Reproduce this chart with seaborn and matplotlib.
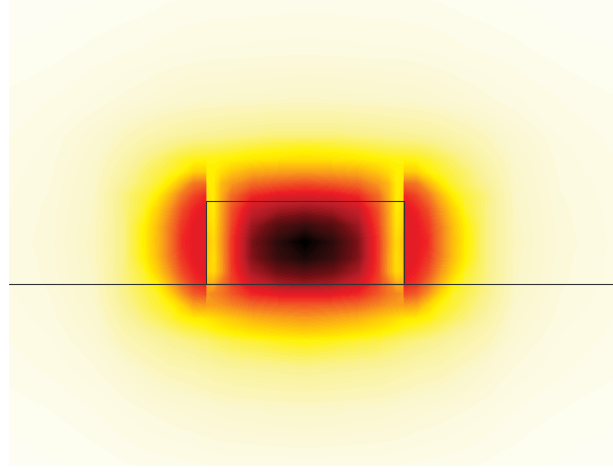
import matplotlib
matplotlib.use("Agg")
import matplotlib.pyplot as plt
from matplotlib.colors import LinearSegmentedColormap
from matplotlib.patches import Rectangle
import numpy as np
import seaborn as sns

sns.set_style("white")

# grid positions (um), left half up to the centre column; the mode is mirror-symmetric
x_half = [-3.08, -2.55, -2.10, -1.80, -1.60, -1.47, -1.35, -1.23, -1.11, -1.00,
          -0.98, -0.91, -0.83, -0.73, -0.53, -0.27, 0.0]
y_rows = [2.84, 2.34, 1.84, 1.49, 1.24, 1.12, 1.00, 0.88, 0.74, 0.58, 0.42,
          0.26, 0.12, 0.0, -0.10, -0.20, -0.34, -0.56, -0.86, -1.26, -1.82]

# normalised intensity, one row per y
intensity_half = [
    [0.020, 0.024, 0.030, 0.033, 0.035, 0.037, 0.039, 0.040, 0.041, 0.041, 0.041, 0.042, 0.042, 0.042, 0.043, 0.044, 0.044],
    [0.030, 0.035, 0.043, 0.048, 0.051, 0.054, 0.056, 0.058, 0.060, 0.061, 0.061, 0.062, 0.062, 0.062, 0.063, 0.064, 0.065],
    [0.041, 0.050, 0.062, 0.074, 0.081, 0.087, 0.092, 0.096, 0.100, 0.102, 0.102, 0.103, 0.104, 0.105, 0.107, 0.110, 0.112],
    [0.046, 0.060, 0.088, 0.118, 0.137, 0.147, 0.157, 0.165, 0.172, 0.175, 0.175, 0.178, 0.180, 0.185, 0.190, 0.200, 0.200],
    [0.051, 0.065, 0.100, 0.150, 0.190, 0.210, 0.230, 0.250, 0.260, 0.265, 0.265, 0.265, 0.270, 0.275, 0.290, 0.300, 0.310],
    [0.052, 0.067, 0.104, 0.165, 0.210, 0.230, 0.250, 0.270, 0.330, 0.335, 0.280, 0.280, 0.310, 0.350, 0.400, 0.420, 0.430],
    [0.054, 0.069, 0.107, 0.180, 0.220, 0.245, 0.290, 0.385, 0.500, 0.520, 0.290, 0.280, 0.380, 0.440, 0.520, 0.550, 0.570],
    [0.055, 0.071, 0.110, 0.200, 0.240, 0.280, 0.380, 0.500, 0.580, 0.620, 0.300, 0.280, 0.400, 0.520, 0.620, 0.660, 0.670],
    [0.056, 0.073, 0.113, 0.200, 0.250, 0.335, 0.445, 0.565, 0.630, 0.655, 0.310, 0.280, 0.420, 0.560, 0.700, 0.750, 0.770],
    [0.057, 0.074, 0.115, 0.200, 0.275, 0.370, 0.490, 0.600, 0.650, 0.660, 0.330, 0.290, 0.430, 0.580, 0.760, 0.860, 0.900],
    [0.058, 0.076, 0.118, 0.200, 0.280, 0.380, 0.500, 0.620, 0.652, 0.660, 0.360, 0.310, 0.440, 0.600, 0.800, 0.920, 1.000],
    [0.057, 0.074, 0.115, 0.200, 0.275, 0.370, 0.490, 0.600, 0.650, 0.660, 0.350, 0.300, 0.430, 0.600, 0.790, 0.900, 0.950],
    [0.057, 0.073, 0.113, 0.200, 0.250, 0.335, 0.445, 0.565, 0.630, 0.655, 0.340, 0.310, 0.430, 0.590, 0.740, 0.820, 0.850],
    [0.056, 0.072, 0.110, 0.195, 0.240, 0.280, 0.385, 0.510, 0.600, 0.630, 0.400, 0.400, 0.500, 0.580, 0.680, 0.740, 0.760],
    [0.055, 0.070, 0.105, 0.190, 0.230, 0.250, 0.320, 0.440, 0.540, 0.565, 0.450, 0.470, 0.500, 0.550, 0.620, 0.650, 0.660],
    [0.053, 0.068, 0.100, 0.180, 0.220, 0.245, 0.265, 0.330, 0.430, 0.445, 0.430, 0.440, 0.450, 0.480, 0.530, 0.550, 0.560],
    [0.050, 0.065, 0.094, 0.160, 0.200, 0.220, 0.240, 0.265, 0.280, 0.290, 0.295, 0.310, 0.330, 0.350, 0.390, 0.420, 0.440],
    [0.047, 0.059, 0.083, 0.130, 0.150, 0.165, 0.180, 0.190, 0.200, 0.210, 0.210, 0.220, 0.225, 0.235, 0.245, 0.260, 0.270],
    [0.042, 0.052, 0.068, 0.090, 0.110, 0.120, 0.130, 0.135, 0.140, 0.150, 0.150, 0.155, 0.160, 0.165, 0.170, 0.175, 0.180],
    [0.033, 0.040, 0.050, 0.062, 0.070, 0.074, 0.078, 0.082, 0.085, 0.090, 0.090, 0.093, 0.095, 0.098, 0.100, 0.105, 0.107],
    [0.022, 0.028, 0.033, 0.038, 0.041, 0.043, 0.044, 0.045, 0.046, 0.048, 0.048, 0.049, 0.050, 0.050, 0.050, 0.051, 0.052],
]

# rib outline and substrate surface
rib_x = [-0.99, 0.99]
rib_y = [0.0, 0.83]
substrate_y = 0.0

xh = np.array(x_half)
x = np.concatenate([xh, -xh[-2::-1]])
half = np.array(intensity_half)
z = np.hstack([half, half[:, -2::-1]])
y = np.array(y_rows)

cmap = LinearSegmentedColormap.from_list("field", [
    (0.00, "#ffffff"),
    (0.04, "#fdfcec"),
    (0.10, "#fbf7cd"),
    (0.18, "#faf296"),
    (0.23, "#fcf050"),
    (0.27, "#fff200"),
    (0.35, "#ffc80a"),
    (0.45, "#f7941d"),
    (0.55, "#f15a24"),
    (0.64, "#ed1c24"),
    (0.72, "#be1e28"),
    (0.82, "#6e0f14"),
    (0.92, "#2d0c0c"),
    (1.00, "#000000"),
])

fig = plt.figure(figsize=(6.13, 4.72), dpi=100)
ax = fig.add_axes([9 / 613, 6 / 472, 604 / 613, 466 / 472])
ax.contourf(x, y, z, levels=np.linspace(0, 1, 101), cmap=cmap, vmin=0, vmax=1)

ax.axhline(substrate_y, color="#333333", lw=0.8)
ax.add_patch(Rectangle((rib_x[0], rib_y[0]), rib_x[1] - rib_x[0], rib_y[1] - rib_y[0],
                       fill=False, edgecolor="#333333", lw=0.8))

ax.set_xlim(-2.96, 3.08)
ax.set_ylim(-1.82, 2.84)
ax.axis("off")

fig.savefig("out.png", dpi=100)
